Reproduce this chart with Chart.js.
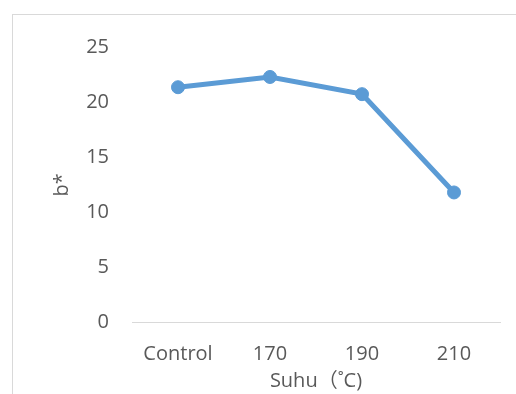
<!DOCTYPE html>
<html>
<head>
<meta charset="utf-8">
<script src="https://cdn.jsdelivr.net/npm/chart.js@4/dist/chart.umd.min.js"></script>
<style>
  html, body { margin: 0; padding: 0; background: #fff; overflow: hidden; }
  #wrap { position: relative; width: 516px; height: 394px; }
  #frame { position: absolute; left: 12px; top: 14px; width: 600px; height: 500px;
           border: 1px solid #d9d9d9; box-sizing: border-box; }
  #c { position: absolute; left: 0; top: 0; }
</style>
</head>
<body>
<div id="wrap">
  <div id="frame"></div>
  <canvas id="c" width="516" height="394"></canvas>
</div>
<script>
// Temperature treatments and measured b* colour values
const categories = ['Control', '170', '190', '210'];
const bStar = [21.35, 22.28, 20.72, 11.8];
const yTicks = [0, 5, 10, 15, 20, 25];

const textColor = '#595959';
const fontFamily = "'Open Sans', 'Noto Sans CJK SC', 'Noto Sans', sans-serif";

new Chart(document.getElementById('c'), {
  type: 'line',
  data: {
    labels: categories,
    datasets: [{
      data: bStar,
      borderColor: '#5B9BD5',
      backgroundColor: '#5B9BD5',
      borderWidth: 5,
      pointRadius: 6.5,
      pointBorderWidth: 1,
      pointBackgroundColor: '#5B9BD5',
      pointBorderColor: '#5B9BD5',
      tension: 0
    }]
  },
  options: {
    responsive: false,
    animation: false,
    devicePixelRatio: 1,
    layout: { padding: { top: 47, right: 16, bottom: 0, left: 0 } },
    plugins: { legend: { display: false }, tooltip: { enabled: false } },
    scales: {
      x: {
        offset: true,
        grid: { display: false, drawTicks: false },
        border: { display: true, color: '#d9d9d9', width: 1 },
        ticks: { color: textColor, font: { family: fontFamily, size: 20 }, padding: 20, maxRotation: 0 },
        title: { display: true, text: 'Suhu（˚C)', color: textColor,
                 font: { family: fontFamily, size: 20 }, padding: { top: 0, bottom: 1 } },
        afterFit: (s) => { s.height = 394 - 322.5; }
      },
      y: {
        min: 0, max: 25,
        afterBuildTicks: (s) => { s.ticks = yTicks.map(v => ({ value: v })); },
        grid: { display: false, drawTicks: false },
        border: { display: false },
        ticks: { color: textColor, font: { family: fontFamily, size: 20 }, padding: 23 },
        title: { display: true, text: 'b*', color: textColor,
                 font: { family: fontFamily, size: 20 }, padding: { top: 50, bottom: 0 } },
        afterFit: (s) => { s.width = 132; }
      }
    }
  }
});
</script>
</body>
</html>
